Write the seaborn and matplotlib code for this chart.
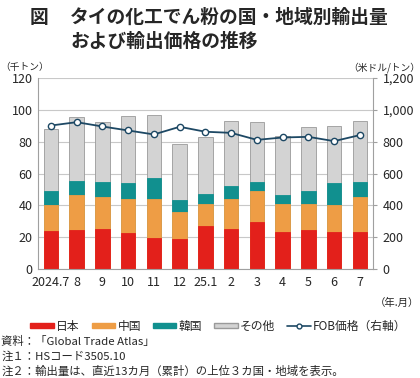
import numpy as np
import pandas as pd
import seaborn as sns
import matplotlib.pyplot as plt
from matplotlib.patches import Patch
from matplotlib.lines import Line2D

months = ['2024.7', '8', '9', '10', '11', '12', '25.1', '2', '3', '4', '5', '6', '7']
japan = [23.9, 24.5, 25.2, 22.6, 19.5, 18.7, 27.3, 25.4, 29.6, 23.5, 24.3, 23.3, 23.3]
china = [16.6, 22.3, 20.1, 21.6, 24.3, 17.3, 13.8, 18.6, 19.4, 17.4, 16.8, 17.0, 21.8]
korea = [8.5, 8.7, 9.4, 10.1, 13.2, 7.6, 6.3, 8.2, 5.9, 5.9, 8.2, 13.8, 9.6]
other = [39.0, 39.9, 37.5, 41.7, 40.0, 34.6, 35.4, 40.7, 37.1, 36.8, 40.0, 35.6, 38.4]
fob = [901, 922, 895, 870, 845, 893, 862, 855, 811, 826, 830, 803, 841]

colors = {'日本': '#e3201b', '中国': '#ee9d45', '韓国': '#11908f', 'その他': '#d3d3d3'}
line_color = '#1d4864'

sns.set_style('white')
plt.rcParams['font.family'] = ['Noto Sans CJK JP', 'DejaVu Sans']

df = pd.DataFrame({'month': months, '日本': japan, '中国': china, '韓国': korea, 'その他': other})
df['c1'] = df['日本']
df['c2'] = df['c1'] + df['中国']
df['c3'] = df['c2'] + df['韓国']
df['c4'] = df['c3'] + df['その他']

fig = plt.figure(figsize=(4.2, 3.78), dpi=100)
ax = fig.add_axes([0.0905, 0.288, 0.797, 0.506])

# stacked bars: draw tallest first
for col, name in [('c4', 'その他'), ('c3', '韓国'), ('c2', '中国'), ('c1', '日本')]:
    sns.barplot(data=df, x='month', y=col, color=colors[name], width=0.57,
                edgecolor='#9a9a9a' if name == 'その他' else colors[name],
                linewidth=0.6, saturation=1, ax=ax, zorder=2)

ax.set_ylim(0, 120)
ax.set_yticks(range(0, 121, 20))
ax.set_xlim(-0.5, 12.5)
ax.yaxis.grid(True, color='#c8c8c8', linewidth=0.8, zorder=0)
ax.set_axisbelow(True)
ax.set_xlabel('')
ax.set_ylabel('')
for s in ['left', 'bottom', 'right', 'top']:
    ax.spines[s].set_color('#a0a0a0')
    ax.spines[s].set_linewidth(0.8)
ax.spines['top'].set_visible(False)
ax.tick_params(axis='x', length=0, labelsize=9, pad=5)
ax.set_xticks(np.arange(-0.5, 13, 1), minor=True)
ax.tick_params(axis='x', which='minor', length=3, color='#a0a0a0')
ax.tick_params(axis='y', length=0, labelsize=9, pad=4)

ax2 = ax.twinx()
sns.lineplot(x=np.arange(13), y=fob, ax=ax2, color=line_color, linewidth=1.3,
             marker='o', markersize=4.5, markerfacecolor='white',
             markeredgecolor=line_color, markeredgewidth=1.0, zorder=5)
ax2.set_ylim(0, 1200)
ax2.set_yticks(range(0, 1201, 200))
ax2.set_yticklabels([f'{v:,}' for v in range(0, 1201, 200)])
ax2.tick_params(axis='y', length=3, color='#a0a0a0', labelsize=9, pad=4)
for s in ['left', 'bottom', 'right', 'top']:
    ax2.spines[s].set_visible(False)
ax.spines['right'].set_visible(True)

fig.text(0.07, 0.955, '図', fontsize=13.5, fontweight='bold', va='center')
fig.text(0.167, 0.955, 'タイの化工でん粉の国・地域別輸出量', fontsize=13.5, fontweight='bold', va='center')
fig.text(0.167, 0.89, 'および輸出価格の推移', fontsize=13.5, fontweight='bold', va='center')
fig.text(0.0, 0.822, '（千トン）', fontsize=7, va='center')
fig.text(1.0, 0.822, '（米ドル/トン）', fontsize=7, va='center', ha='right')
fig.text(0.998, 0.2, '（年.月）', fontsize=7.5, va='center', ha='right')

handles = [Patch(facecolor=colors[n], edgecolor='#9a9a9a' if n == 'その他' else colors[n], label=n)
           for n in ['日本', '中国', '韓国', 'その他']]
handles.append(Line2D([0], [0], color=line_color, marker='o', markersize=3.5,
                      markerfacecolor='white', linewidth=1.2, label='FOB価格（右軸）'))
fig.legend(handles=handles, loc='center', bbox_to_anchor=(0.52, 0.137), ncol=5,
           frameon=False, fontsize=8.5, handlelength=2.0, handleheight=0.35,
           handletextpad=0.2, columnspacing=1.0)

fig.text(0.003, 0.097, '資料：「Global Trade Atlas」', fontsize=8.2, va='center')
fig.text(0.003, 0.058, '注１：HSコード3505.10', fontsize=8.2, va='center')
fig.text(0.003, 0.019, '注２：輸出量は、直近13カ月（累計）の上位３カ国・地域を表示。', fontsize=8.2, va='center')

fig.savefig('out.png', dpi=100)
